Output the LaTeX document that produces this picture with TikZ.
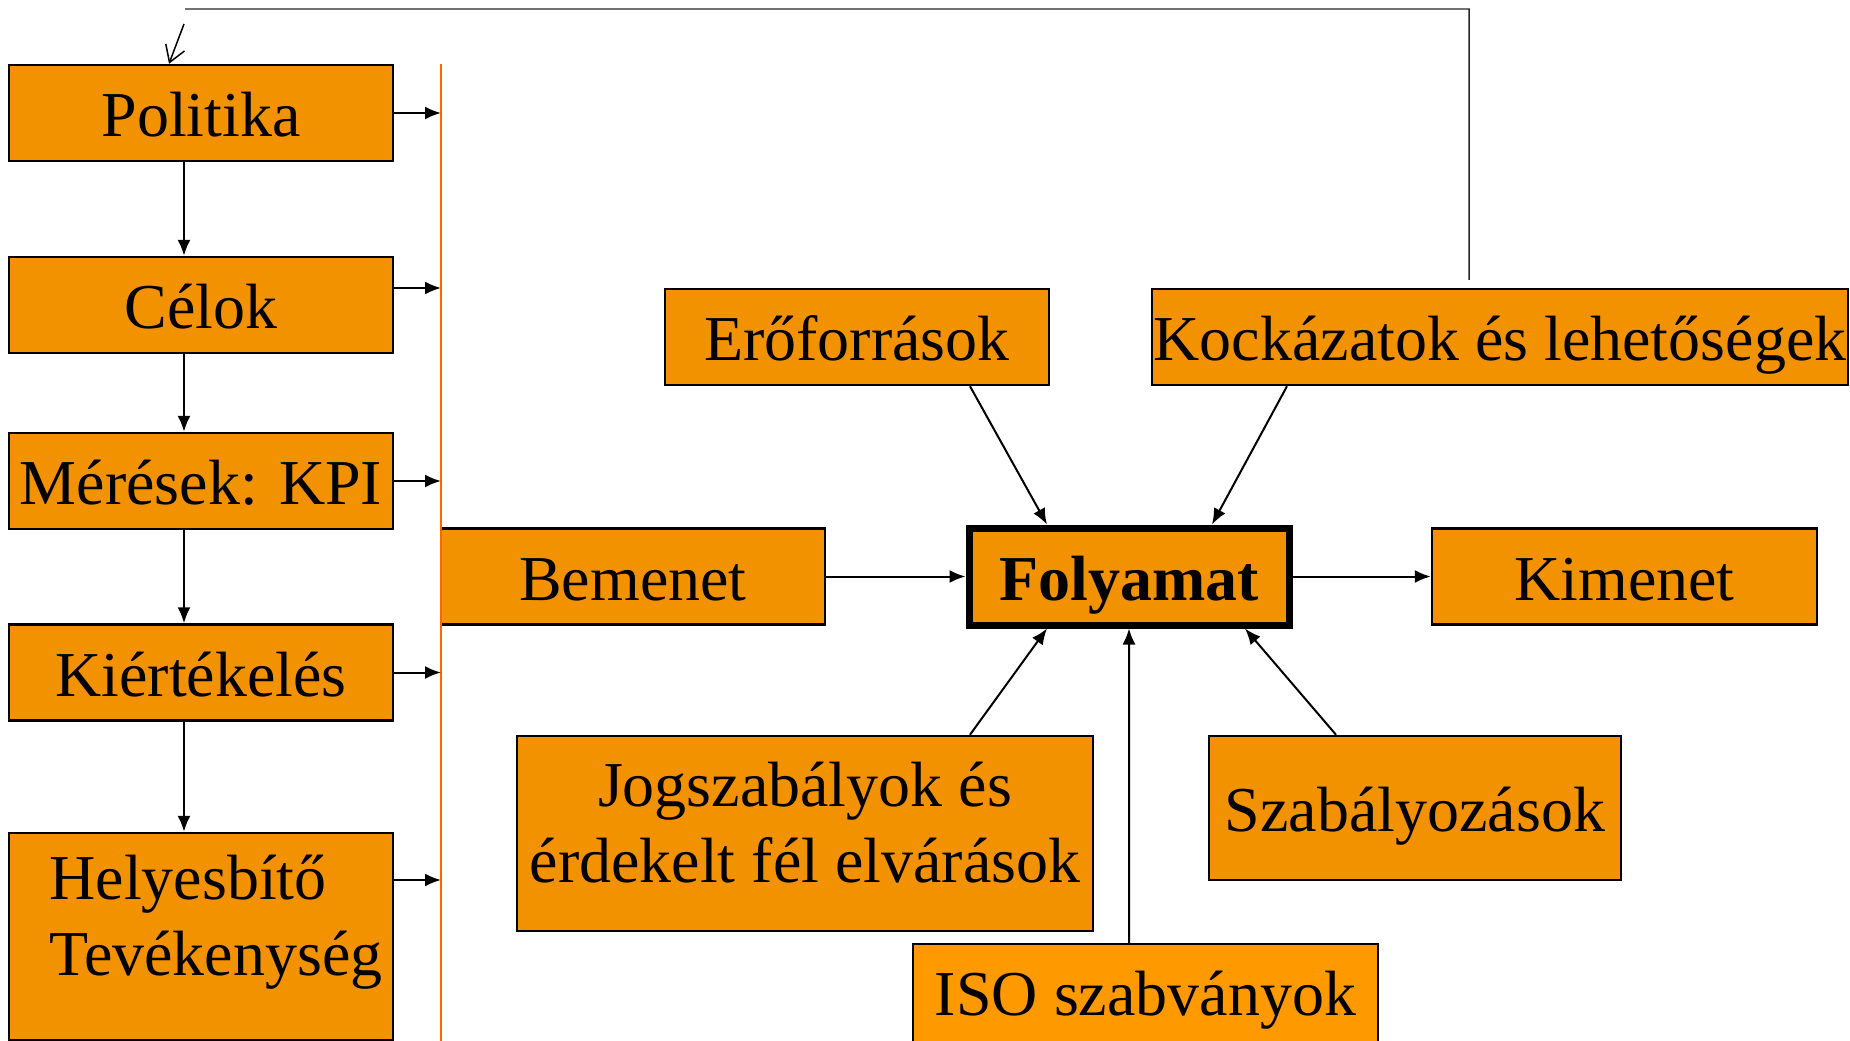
\documentclass[tikz,border=0pt]{standalone}
\usepackage{fontspec}
\setmainfont{Liberation Serif}
\usetikzlibrary{arrows.meta}
\definecolor{narancs}{RGB}{243,146,0}
\definecolor{narancsv}{RGB}{255,153,0}
\definecolor{vonal}{RGB}{255,102,0}

\begin{document}
\begin{tikzpicture}[x=0.1mm,y=-0.1mm,
	alap/.style={draw, fill=narancs, line width=0.25mm, minimum width=38.4mm, minimum height=9.6mm, inner sep=0pt, font=\fontsize{18.2}{21.5}\selectfont},
	doboz/.style={alap, text height=6.1mm, text depth=1.4mm},
	nyil/.style={-{Latex[length=1.6mm,width=1.3mm]}, line width=0.2mm}]

\useasboundingbox (0,0) rectangle (1850,1041);

%bal oszlop
	\node [doboz] (pol) at (201,113) {Politika};
	\node [doboz] (cel) at (201,305) {Célok};
	\node [doboz] (mer) at (201,481) {Mérések: KPI};
	\node [doboz] (kie) at (201,672.5) {Kiértékelés};
	\node [alap, minimum height=20.7mm, align=left] (hel) at (201,936.5) {\hspace*{3mm}Helyesbítő\\\hspace*{3mm}Tevékenység\rule[-4.2mm]{0pt}{0pt}};

%folyamat es kornyezete
	\node [doboz] (bem) at (633,576.5) {Bemenet};
	\node [doboz, minimum width=32mm, minimum height=9.7mm, line width=0.7mm, font=\fontsize{18.2}{21.5}\selectfont\bfseries] (fol) at (1129,576.5) {Folyamat};
	\node [doboz, minimum width=38.5mm] (kim) at (1624.5,576.5) {Kimenet};
	\node [doboz] (ero) at (857,337) {Erőforrások};
	\node [doboz, minimum width=69.6mm] (koc) at (1500,337) {Kockázatok és lehetőségek};
	\node [alap, minimum width=57.6mm, minimum height=19.5mm, align=center] (jog) at (805,833.5) {Jogszabályok és\\érdekelt fél elvárások\rule[-2.2mm]{0pt}{0pt}};
	\node [doboz, minimum width=41.2mm, minimum height=14.4mm] (sza) at (1415,808) {Szabályozások};
	\node [doboz, fill=narancsv, minimum width=46.5mm, minimum height=11.2mm, text height=4.4mm] (iso) at (1145.5,1000) {ISO szabványok};

%narancs fuggoleges vonal
	\coordinate (vfel) at (441,64);
	\coordinate (valj) at (441,1041);
	\draw [vonal, line width=0.25mm] (vfel)--(valj);

	\foreach \n/\d in {pol/0,cel/1.7,mer/0,kie/0,hel/5.65}
	\draw [nyil] ([yshift=\d mm]\n.east)--([yshift=\d mm]\n.east -| vfel);%vonalhoz
	\foreach \a/\b in {pol/cel,cel/mer,mer/kie,kie/hel}
	\draw [nyil] ([xshift=-1.7mm]\a.south)--([xshift=-1.7mm]\b.north);%lefele

	\draw [nyil] (bem)--(fol);
	\draw [nyil] (fol)--(kim);
	\draw [nyil] ([xshift=11.3mm]ero.south)--([xshift=-8.2mm]fol.north);
	\draw [nyil] ([xshift=-21.3mm]koc.south)--([xshift=8.3mm]fol.north);
	\draw [nyil] ([xshift=16.5mm]jog.north)--([xshift=-8.2mm]fol.south);
	\draw [nyil] ([xshift=-1.65mm]iso.north)--(fol.south);
	\draw [nyil] ([xshift=-7.9mm]sza.north)--([xshift=11.6mm]fol.south);

%visszacsatolas
	\coordinate (fbsarok) at (1469,9);
	\coordinate (fbvege) at (185,9);
	\coordinate (fbnyil) at (184,24);
	\draw [line width=0.15mm, black!85] ([xshift=-3.1mm,yshift=0.8mm]koc.north)--(fbsarok)--(fbvege);
	\draw [line width=0.15mm, -{Straight Barb[length=1.6mm,width=2mm]}] (fbnyil)--([xshift=-3.2mm]pol.north);

\end{tikzpicture}
\end{document}
